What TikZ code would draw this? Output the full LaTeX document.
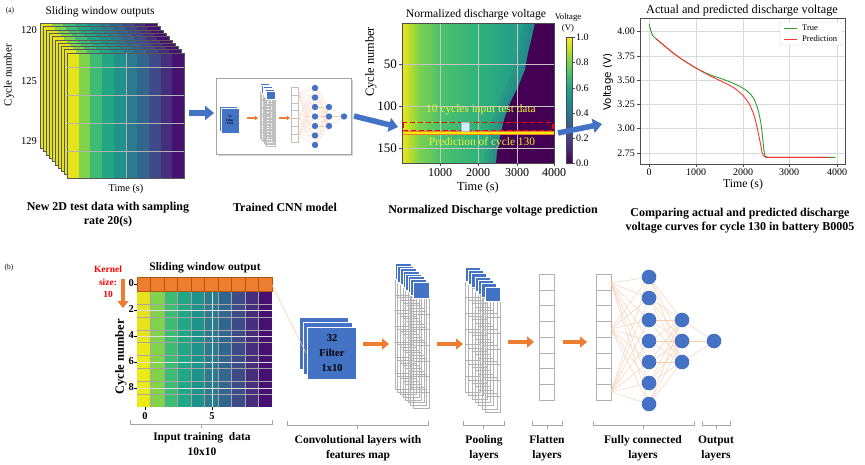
\documentclass[tikz,border=0pt]{standalone}
\usepackage{fontspec}
\setmainfont{Liberation Serif}
\newfontfamily\dejavu{DejaVu Sans}
\usetikzlibrary{arrows.meta}
\definecolor{c0}{HTML}{440154}
\definecolor{c1}{HTML}{482475}
\definecolor{c2}{HTML}{414487}
\definecolor{c3}{HTML}{355F8D}
\definecolor{c4}{HTML}{2A788E}
\definecolor{c5}{HTML}{21918C}
\definecolor{c6}{HTML}{22A884}
\definecolor{c7}{HTML}{44BF70}
\definecolor{c8}{HTML}{7AD151}
\definecolor{c9}{HTML}{BDDF26}
\definecolor{c10}{HTML}{FDE725}
\definecolor{v0}{HTML}{E6E31C}
\definecolor{v1}{HTML}{82D34C}
\definecolor{v2}{HTML}{3FBC73}
\definecolor{v3}{HTML}{22A785}
\definecolor{v4}{HTML}{21918C}
\definecolor{v5}{HTML}{2A7B8E}
\definecolor{v6}{HTML}{31668E}
\definecolor{v7}{HTML}{3E4A89}
\definecolor{v8}{HTML}{472E7C}
\definecolor{v9}{HTML}{45106F}
\definecolor{h1}{HTML}{F0E51F}
\definecolor{h2}{HTML}{C4DF25}
\definecolor{h3}{HTML}{7ED24E}
\definecolor{h4}{HTML}{4BC26C}
\definecolor{h5}{HTML}{33B279}
\definecolor{h6}{HTML}{25A383}
\definecolor{h7}{HTML}{1F9A8A}
\definecolor{bl}{HTML}{4472C4}
\definecolor{org}{HTML}{ED7D31}
\definecolor{lorg}{HTML}{F8CBAD}
\definecolor{grn}{HTML}{2CA02C}
\definecolor{rd}{HTML}{FF3333}
\definecolor{ylw}{HTML}{F2F23A}
\begin{document}
\begin{tikzpicture}[x=1pt,y=-1pt,
  txt/.style={inner sep=0pt, font=\fontsize{10}{12}\selectfont},
  big/.style={inner sep=0pt, font=\fontsize{11}{13}\selectfont},
  captxt/.style={inner sep=0pt, align=center, font=\bfseries\fontsize{12}{14}\selectfont},
  capb/.style={inner sep=0pt, align=center, font=\bfseries\fontsize{11.5}{15}\selectfont},
  smalltxt/.style={inner sep=0pt, font=\fontsize{7.5}{8}\selectfont},
  bluearrow/.style={bl, line width=5.5pt, -{Triangle[length=9pt,width=14pt]}},
  orgarrow/.style={org, line width=4.5pt, -{Triangle[length=7pt,width=11pt]}},
  minarrow/.style={org, line width=1.4pt, -{Triangle[length=3pt,width=4.5pt]}},
  conn/.style={lorg, line width=0.4pt},
  neuron/.style={circle, fill=bl, inner sep=0pt, minimum size=14.6pt},
  mneuron/.style={circle, fill=bl, inner sep=0pt, minimum size=6.4pt},
  bracel/.style={gray!70, line width=0.6pt},
  gridln/.style={gray!60, line width=0.3pt},
  plotgrid/.style={gray!30, line width=0.5pt}]
\useasboundingbox[fill=white] (0,0) rectangle (865,464);

% ================= (a) =================
\node[smalltxt] (la) at (10,11) {(a)};
\node[big, font=\fontsize{11.4}{13}\selectfont] (swt) at (100,12) {Sliding window outputs};
% stacked frames
\foreach \k in {0,...,9}{
  \pgfmathsetmacro\fx{40+\k*3.0}
  \pgfmathsetmacro\fy{23+\k*3.33}
  \foreach \i in {0,...,9}{
    \fill[fill=v\i] (\fx+\i*11.7,\fy) rectangle (\fx+\i*11.7+11.75,\fy+125);
  }
  \draw[black!65,line width=0.3pt] (\fx,\fy) rectangle (\fx+117,\fy+125);
}
\foreach \yy in {67,95,123,151}{\draw[gray!60,line width=0.5pt] (67,\yy) -- (184,\yy);}
\draw[gray!60,line width=0.5pt] (126,53) -- (126,178);
\node[txt, anchor=east, font=\fontsize{10.5}{12}\selectfont] (y120) at (37,30) {120};
\node[txt, anchor=east, font=\fontsize{10.5}{12}\selectfont] (y125) at (37,81) {125};
\node[txt, anchor=east, font=\fontsize{10.5}{12}\selectfont] (y129) at (37,141) {129};
\node[big, rotate=90] (cyca) at (9,75) {Cycle number};
\node[txt, font=\fontsize{10.3}{12}\selectfont] (timea) at (126,189) {Time (s)};
\node[captxt] (capa1) at (108,215) {New 2D test data with sampling\\rate 20(s)};

% arrow 1
\coordinate (a1s) at (189,113);
\coordinate (a1e) at (214,113);
\draw[bluearrow] (a1s) -- (a1e);

% trained CNN box
\fill[gray!35] (218,80) rectangle (353,156);
\draw[gray!70, fill=white, line width=0.6pt] (216,78) rectangle (351,154);
\foreach \k in {0,1,2}{
  \draw[fill=bl, draw=white, line width=0.3pt] (218+\k*1.5,105+\k*1.5) rectangle (236+\k*1.5,130+\k*1.5);
}
\node[inner sep=0pt, align=center, font=\bfseries\fontsize{3.2}{3.8}\selectfont] (mf) at (230,120) {32\\Filter\\1x10};
\coordinate (m1s) at (247,118); \coordinate (m1e) at (258,118);
\draw[minarrow] (m1s) -- (m1e);
\foreach \k in {0,...,5}{
  \pgfmathsetmacro\px{260+\k*1.3}
  \pgfmathsetmacro\py{83+\k*1.6}
  \draw[gray!50, line width=0.2pt] (\px,\py+8) rectangle (\px+9,\py+55);
  \foreach \r in {1,...,5} \draw[gray!50,line width=0.2pt] (\px,\py+8+\r*7.8) -- (\px+9,\py+8+\r*7.8);
  \fill[bl, draw=white, line width=0.2pt] (\px,\py) rectangle (\px+9,\py+8);
}
\coordinate (m2s) at (279,118); \coordinate (m2e) at (290,118);
\draw[minarrow] (m2s) -- (m2e);
\draw[gray!50, line width=0.3pt] (291,87) rectangle (298,142);
\foreach \r in {1,...,6} \draw[gray!50, line width=0.3pt] (291,87+\r*7.86) -- (298,87+\r*7.86);
\foreach \j/\yy in {1/88,2/97.5,3/107,4/116.5,5/126,6/135.5,7/145}{\coordinate (mL\j) at (315,\yy);}
\foreach \j/\yy in {1/107,2/116.5,3/126}{\coordinate (mM\j) at (329,\yy);}
\coordinate (mO) at (344,116.5);
\foreach \s in {93,117,136}{\foreach \j in {1,...,7}{\draw[lorg, line width=0.2pt] (298,\s) -- (mL\j);}}
\foreach \i in {1,...,7}{\foreach \j in {1,2,3}{\draw[lorg, line width=0.2pt] (mL\i) -- (mM\j);}}
\foreach \j in {1,2,3}{\draw[lorg, line width=0.2pt] (mM\j) -- (mO);}
\foreach \j in {1,...,7}{\node[mneuron] (nL\j) at (mL\j) {};}
\foreach \j in {1,2,3}{\node[mneuron] (nM\j) at (mM\j) {};}
\node[mneuron] (nO) at (mO) {};
\node[captxt] (capa2) at (285,207) {Trained CNN model};

% arrow 2
\coordinate (a2s) at (354,116);
\coordinate (a2e) at (398,127);
\draw[bluearrow] (a2s) -- (a2e);

% heatmap
\shade[left color=h1, right color=h2] (402,23) rectangle (409,163);
\shade[left color=h2, right color=h3] (408.7,23) rectangle (419,163);
\shade[left color=h3, right color=h4] (418.7,23) rectangle (440,163);
\shade[left color=h4, right color=h5] (439.7,23) rectangle (475,163);
\shade[left color=h5, right color=h6] (474.7,23) rectangle (505,163);
\shade[left color=h6, right color=h7] (504.7,23) rectangle (536,163);
\foreach \d in {12,8,4}{
  \fill[c4, opacity=0.2] (535-\d,23) -- (532-\d,37) -- (528-\d,53) -- (525-\d,70) -- (518-\d,87) -- (510-\d,103) -- (504-\d,120) -- (500-\d,137) -- (497-\d,153) -- (496-\d,163) -- (554,163) -- (554,23) -- cycle;
}
\fill[c0] (535,23) -- (532,37) -- (528,53) -- (525,70) -- (518,87) -- (510,103) -- (504,120) -- (500,137) -- (497,153) -- (496,163) -- (554,163) -- (554,23) -- cycle;
\foreach \xx in {440,478,517}{\draw[plotgrid, gray!45] (\xx,23) -- (\xx,163);}
\foreach \yy in {64,106,148}{\draw[plotgrid, gray!45] (402,\yy) -- (554,\yy);}
\draw[org, line width=4pt] (402,133) -- (554,133);
\draw[yellow!90!orange, line width=2.2pt] (402,133) -- (554,133);
\draw[red, line width=1.3pt, dash pattern=on 5pt off 3pt] (403,122.5) rectangle (553,130.5);
\draw[fill=blue!25!cyan!20!white, draw=gray!60, line width=0.4pt] (461,122.5) rectangle (469,131);
\node[txt, text=ylw, font=\fontsize{11.4}{12}\selectfont] (tin) at (481,110) {10 cycles input test data};
\node[txt, text=ylw, font=\fontsize{11.4}{12}\selectfont] (tpr) at (482,143) {Prediction of cycle 130};
\draw[black!70, line width=0.4pt] (402,23) rectangle (554,163);
\foreach \yy/\t in {64/50,106/100,148/150}{\draw[black!70,line width=0.4pt] (402,\yy) -- (399,\yy); \node[txt, anchor=east, font=\fontsize{13}{14}\selectfont] at (397,\yy) {\t};}
\foreach \xx/\t in {440/1000,478/2000,517/3000,554/4000}{\draw[black!70,line width=0.4pt] (\xx,163) -- (\xx,166); \node[txt, anchor=north, font=\fontsize{12}{13}\selectfont] at (\xx,168) {\t};}
\node[big, rotate=90, font=\fontsize{12.4}{14}\selectfont] (cych) at (371,62) {Cycle number};
\node[big, font=\fontsize{12.3}{14}\selectfont] (timeh) at (478,188) {Time (s)};
\node[big, font=\fontsize{11.7}{14}\selectfont] (hmt) at (476,15) {Normalized discharge voltage};
% colorbar
\foreach \i [evaluate=\i as \j using int(\i+1)] in {0,...,9}{
  \shade[bottom color=c\i, top color=c\j] (566,163-\i*12.6+0.3) rectangle (572,163-\i*12.6-12.6);
}
\draw[black!70, line width=0.4pt] (566,37) rectangle (572,163);
\foreach \yy/\t in {37/1.0,62/0.8,88/0.6,113/0.4,138/0.2,163/0.0}{\draw[black!70,line width=0.4pt] (572,\yy) -- (575,\yy); \node[txt, anchor=west, font=\fontsize{10}{11}\selectfont] at (576,\yy) {\t};}
\node[inner sep=0pt, align=center, font=\fontsize{8.7}{10.5}\selectfont] (cbl) at (568,23) {Voltage\\(V)};
\node[captxt] (capa3) at (493,211) {Normalized Discharge voltage prediction};

% arrow 3
\coordinate (a3s) at (558,133);
\coordinate (a3e) at (602,124);
\draw[bluearrow] (a3s) -- (a3e);

% right plot
\foreach \xx in {649,696,743,789,837}{\draw[plotgrid] (\xx,18) -- (\xx,164);}
\foreach \yy in {31,56,80,104,128,153}{\draw[plotgrid] (640,\yy) -- (845,\yy);}
\begin{scope}[shift={(649,31)}, x=0.04685pt, y=97.2pt]
\draw[grn, line width=0.9pt] plot[smooth, tension=0.5] coordinates {(0,0.07) (25,0.03) (70,-0.04) (150,-0.08) (300,-0.14) (500,-0.22) (700,-0.29) (1000,-0.38) (1300,-0.45) (1600,-0.50) (1900,-0.56) (2100,-0.62) (2230,-0.69) (2320,-0.80) (2390,-0.95) (2430,-1.12) (2460,-1.25) (2490,-1.30)} -- (2560,-1.30) -- (3980,-1.30);
\draw[rd, line width=0.9pt] plot[smooth, tension=0.5] coordinates {(150,-0.08) (300,-0.14) (500,-0.22) (700,-0.29) (1000,-0.38) (1300,-0.46) (1600,-0.53) (1800,-0.58) (2000,-0.66) (2150,-0.76) (2250,-0.88) (2320,-1.02) (2380,-1.16) (2420,-1.26) (2460,-1.29)} -- (2560,-1.30) -- (3850,-1.30);
\end{scope}
\draw[black!70, line width=0.5pt] (640,18) rectangle (845,164);
\foreach \yy/\t in {31/4.00,56/3.75,80/3.50,104/3.25,128/3.00,153/2.75}{\draw[black!70,line width=0.4pt] (640,\yy) -- (637,\yy); \node[txt, anchor=east] at (635,\yy) {\t};}
\foreach \xx/\t in {649/0,696/1000,743/2000,789/3000,837/4000}{\draw[black!70,line width=0.4pt] (\xx,164) -- (\xx,167); \node[txt, anchor=north] at (\xx,169) {\t};}
\draw[gray!40, fill=white, line width=0.4pt, rounded corners=1pt] (780,22) rectangle (842,45);
\draw[grn, line width=0.9pt] (784,28) -- (797,28);
\draw[rd, line width=0.9pt] (784,39) -- (797,39);
\node[inner sep=0pt, anchor=west, font=\fontsize{8.5}{9}\selectfont] (lgt) at (802,28) {True};
\node[inner sep=0pt, anchor=west, font=\fontsize{8.5}{9}\selectfont] (lgp) at (802,39) {Prediction};
\node[inner sep=0pt, rotate=90, font=\dejavu\fontsize{10.3}{12}\selectfont] (volt) at (608,82) {Voltage (V)};
\node[big, font=\fontsize{11.8}{13}\selectfont] (timer) at (743,185) {Time (s)};
\node[big, font=\fontsize{12.3}{14}\selectfont] (rpt) at (742,11) {Actual and predicted discharge voltage};
\node[captxt] (capa4) at (740,221) {Comparing actual and predicted discharge\\voltage curves for cycle 130 in battery B0005};

% ================= (b) =================
\node[smalltxt] (lb) at (9,268) {(b)};
\node[capb] (swo) at (205,268) {Sliding window output};
\node[inner sep=0pt, align=center, text=red, font=\bfseries\fontsize{9.5}{12.5}\selectfont] (kern) at (108,282) {Kernel\\size:\\10};
\coordinate (ks) at (123,279); \coordinate (ke) at (123,308);
\draw[orgarrow] (ks) -- (ke);
% matrix
\foreach \i in {0,...,9}{
  \fill[fill=v\i] (137+\i*13.5,290) rectangle (137+\i*13.5+13.55,407);
}
\fill[v0!80!yellow] (137,340) rectangle (150.5,407);
\fill[org] (137,277) rectangle (272,291);
\foreach \i in {1,...,9}{\draw[black!35, line width=0.4pt] (137+\i*13.5,291) -- (137+\i*13.5,407);}
\foreach \r in {1,...,8}{\draw[black!35, line width=0.4pt] (137,291+\r*12.9) -- (272,291+\r*12.9);}
\foreach \i in {1,...,9}{\draw[orange!70!black, line width=0.4pt] (137+\i*13.5,277) -- (137+\i*13.5,291);}
\foreach \yy in {310,336,362,388}{\draw[white!75!gray, line width=0.6pt] (137,\yy) -- (272,\yy);}
\draw[white!75!gray, line width=0.6pt] (212,291) -- (212,407);
\draw[orange!70!black, line width=0.5pt] (137,277) rectangle (272,291);
\foreach \yy/\t in {284/0,310/2,336/4,362/6,388/8}{\draw[black, line width=0.5pt] (137,\yy) -- (134,\yy); \node[inner sep=0pt, anchor=east, font=\bfseries\fontsize{10.5}{12}\selectfont] at (134,\yy-1) {\t};}
\foreach \xx/\t in {145/0,212/5}{\draw[black, line width=0.5pt] (\xx,407) -- (\xx,410); \node[inner sep=0pt, anchor=north, font=\bfseries\fontsize{10.5}{12}\selectfont] at (\xx,412) {\t};}
\node[inner sep=0pt, rotate=90, font=\bfseries\fontsize{12.5}{14}\selectfont] (cycb) at (121,357) {Cycle number};
% filters
\coordinate (mcorner) at (272,285);
\coordinate (fend) at (306,353);
\foreach \k in {0,1,2}{
  \draw[fill=bl, draw=white, line width=0.6pt] (299+\k*4,317+\k*5) rectangle (348+\k*4,369+\k*5);
  \ifnum\k=1 \draw[conn, line width=0.5pt] (mcorner) -- (fend); \fi
}
\node[inner sep=0pt, align=center, font=\bfseries\fontsize{10.5}{15}\selectfont] (filt) at (332,353) {32\\Filter\\1x10};
\coordinate (o1s) at (363,344); \coordinate (o1e) at (389,344);
\draw[orgarrow] (o1s) -- (o1e);
% conv feature maps
\foreach \k in {0,...,7}{
  \pgfmathsetmacro\px{395+\k*2.57}
  \pgfmathsetmacro\py{263+\k*2.71}
  \draw[gridln] (\px,\py+16) rectangle (\px+16,\py+126);
  \foreach \r in {1,...,6} \draw[gridln] (\px,\py+16+\r*15.7) -- (\px+16,\py+16+\r*15.7);
  \fill[bl, draw=white, line width=0.4pt] (\px,\py) rectangle (\px+16,\py+16);
}
\coordinate (o2s) at (437,344); \coordinate (o2e) at (463,344);
\draw[orgarrow] (o2s) -- (o2e);
% pooling
\foreach \k in {0,...,6}{
  \pgfmathsetmacro\px{465+\k*3.33}
  \pgfmathsetmacro\py{267+\k*3.33}
  \draw[gridln] (\px,\py+14) rectangle (\px+15,\py+125);
  \foreach \r in {1,...,6} \draw[gridln] (\px,\py+14+\r*15.9) -- (\px+15,\py+14+\r*15.9);
  \fill[bl, draw=white, line width=0.4pt] (\px,\py) rectangle (\px+15,\py+14);
}
\coordinate (o3s) at (508,342); \coordinate (o3e) at (534,342);
\draw[orgarrow] (o3s) -- (o3e);
% flatten
\draw[gray!60, line width=0.5pt] (539,274) rectangle (554,400);
\foreach \r in {1,...,7}{\draw[gray!60, line width=0.5pt] (539,274+\r*15.75) -- (554,274+\r*15.75);}
\coordinate (o4s) at (563,342); \coordinate (o4e) at (587,342);
\draw[orgarrow] (o4s) -- (o4e);
% fully connected
\draw[gray!60, line width=0.5pt] (596,274) rectangle (611,400);
\foreach \r in {1,...,7}{\draw[gray!60, line width=0.5pt] (596,274+\r*15.75) -- (611,274+\r*15.75);}
\coordinate (src1) at (611,283);
\coordinate (src2) at (611,329);
\coordinate (src3) at (611,392);
\foreach \j/\yy in {1/277,2/298,3/320,4/341,5/362,6/383,7/404}{\coordinate (L\j) at (649,\yy);}
\foreach \j/\yy in {1/320,2/341,3/362}{\coordinate (M\j) at (682,\yy);}
\coordinate (O) at (714,341);
\foreach \s in {1,2,3}{\foreach \j in {1,...,7}{\draw[conn] (src\s) -- (L\j);}}
\foreach \i in {1,...,7}{\foreach \j in {1,2,3}{\draw[conn] (L\i) -- (M\j);}}
\foreach \j in {1,2,3}{\draw[conn] (M\j) -- (O);}
\foreach \j in {1,...,7}{\node[neuron] (NL\j) at (L\j) {};}
\foreach \j in {1,2,3}{\node[neuron] (NM\j) at (M\j) {};}
\node[neuron] (NO) at (O) {};
% braces and labels
\foreach \x/\y/\z in {130/272/424, 287/428/425, 463/504/425, 532/562/425, 593/694/425, 702/730/425}{
  \draw[bracel] (\x,\z-4) -- (\x,\z) -- (\y,\z) -- (\y,\z-4);
  \draw[bracel] ({(\x+\y)/2},\z) -- ({(\x+\y)/2},\z+4);
}
\node[capb] (cb1) at (202,444) {Input training\ \ data\\10x10};
\node[capb] (cb2) at (358,448) {Convolutional layers with\\features map};
\node[capb] (cb3) at (484,448) {Pooling\\layers};
\node[capb] (cb4) at (547,448) {Flatten\\layers};
\node[capb] (cb5) at (643,448) {Fully connected\\layers};
\node[capb] (cb6) at (716,448) {Output\\layers};
\end{tikzpicture}
\end{document}
